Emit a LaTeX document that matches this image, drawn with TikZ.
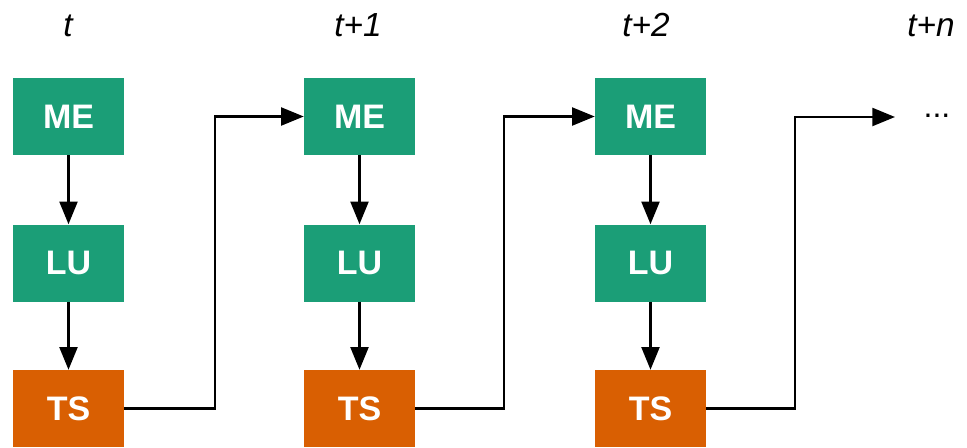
\documentclass[tikz,border=0pt]{standalone}
\usepackage{fontspec}
\setmainfont{Liberation Sans}
\usetikzlibrary{arrows.meta}
\definecolor{megreen}{HTML}{1B9E77}
\definecolor{tsorange}{HTML}{D95F02}
\begin{document}
\begin{tikzpicture}[x=0.75pt,y=-0.75pt,
  box/.style={draw=none,minimum width=83.25pt,minimum height=57.75pt,inner sep=0pt,
    text=white,font=\fontsize{25.5}{28}\selectfont\bfseries},
  gbox/.style={box,fill=megreen},
  obox/.style={box,fill=tsorange},
  tlabel/.style={anchor=base,font=\fontsize{25}{28}\selectfont\itshape},
  conn/.style={line width=1.7pt,-{Triangle[length=17pt,width=13.5pt]}}]
\useasboundingbox (0,0) rectangle (967,447);
% labels
\node[tlabel] (l0) at (68,36) {t};
\node[tlabel] (l1) at (358,36) {t+1};
\node[tlabel] (l2) at (646,36) {t+2};
\node[tlabel] (l3) at (931,36) {t+n};
% columns
\foreach \i/\x in {0/68.5,1/359.5,2/650.5}{
  \node[gbox] (me\i) at (\x,116.5) {ME};
  \node[gbox] (lu\i) at (\x,263) {LU};
  \node[obox] (ts\i) at (\x,408.5) {TS};
  \draw[conn] (me\i) -- (lu\i);
  \draw[conn] (lu\i) -- (ts\i);
}
\coordinate (end) at (895,117);
\node[anchor=base,font=\fontsize{24}{28}\selectfont] (dots) at (937,117) {...};
\draw[conn] (ts0.east) -- (215,408.5) |- (me1.west);
\draw[conn] (ts1.east) -- (504,408.5) |- (me2.west);
\draw[conn] (ts2.east) -- (795,408.5) |- (end);
\end{tikzpicture}
\end{document}
